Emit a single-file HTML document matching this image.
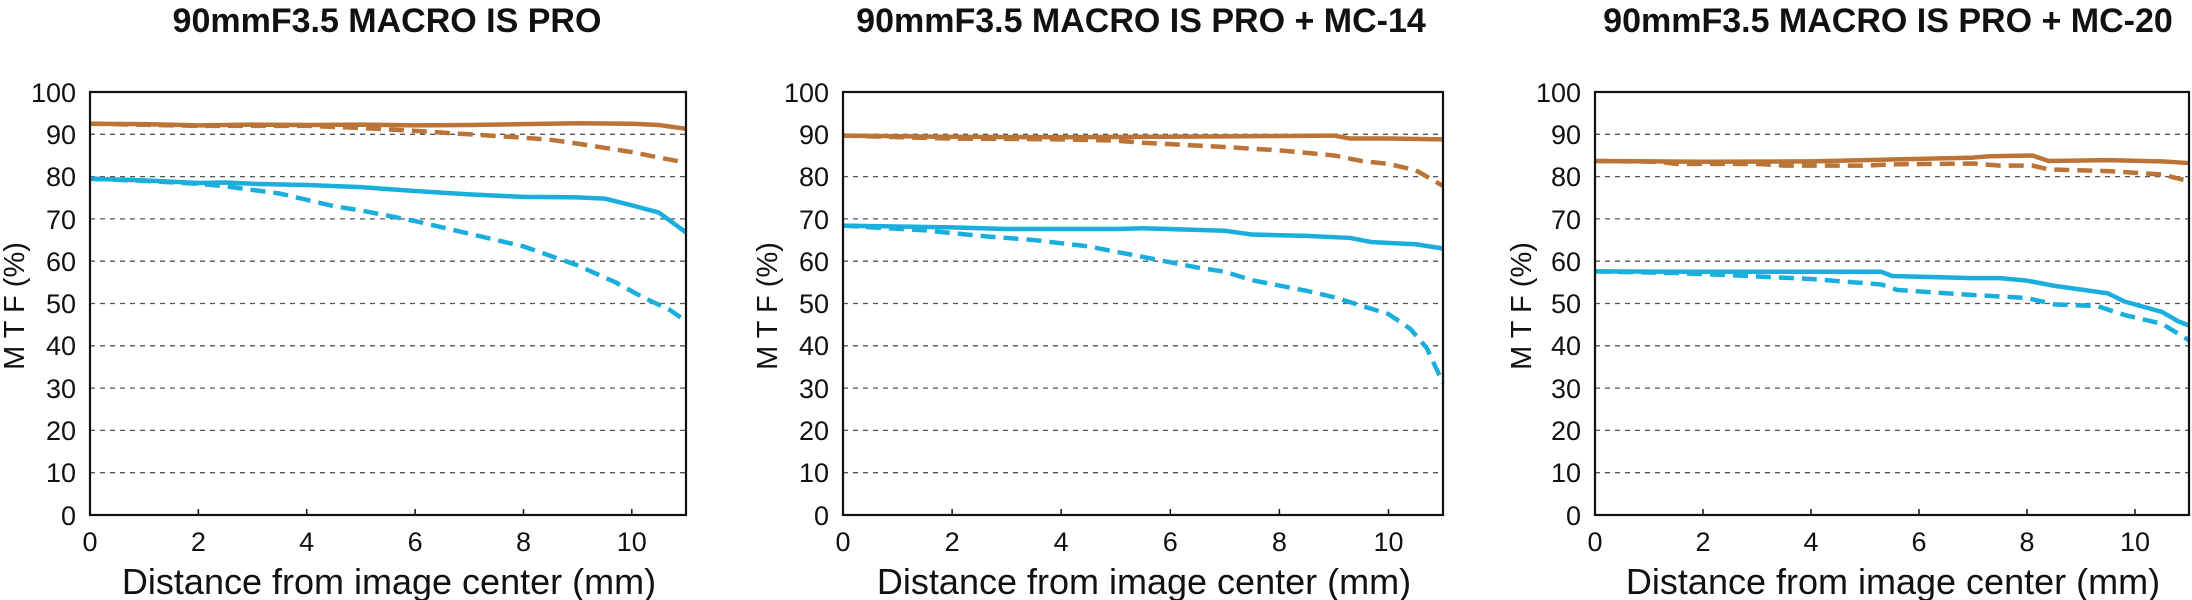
<!DOCTYPE html>
<html><head><meta charset="utf-8"><style>
html,body{margin:0;padding:0;background:#fff;}
svg{display:block;}
text{font-family:"Liberation Sans",sans-serif;fill:#111;}
.t{font-weight:bold;font-size:34px;text-anchor:middle;}
.yl{font-size:27px;text-anchor:end;}
.xl{font-size:27px;text-anchor:middle;}
.ax{font-size:36px;text-anchor:middle;}
.g{stroke:#555;stroke-width:1.3;stroke-dasharray:5 5;}
.o{stroke:#bb7435;}
.b{stroke:#1aaedc;}
.ln{fill:none;stroke-width:4.5;vector-effect:non-scaling-stroke;stroke-linejoin:round;}
.d{stroke-dasharray:15 8;}
</style></head><body>
<svg width="2192" height="600" viewBox="0 0 2192 600" xmlns="http://www.w3.org/2000/svg">
<!-- Plot 1 -->
<g>
<text class="t" x="387" y="32">90mmF3.5 MACRO IS PRO</text>
<g transform="translate(90,0)">
<line class="g" x1="0" x2="596" y1="134.3" y2="134.3"/><line class="g" x1="0" x2="596" y1="176.6" y2="176.6"/><line class="g" x1="0" x2="596" y1="218.9" y2="218.9"/><line class="g" x1="0" x2="596" y1="261.2" y2="261.2"/><line class="g" x1="0" x2="596" y1="303.5" y2="303.5"/><line class="g" x1="0" x2="596" y1="345.8" y2="345.8"/><line class="g" x1="0" x2="596" y1="388.1" y2="388.1"/><line class="g" x1="0" x2="596" y1="430.4" y2="430.4"/><line class="g" x1="0" x2="596" y1="472.7" y2="472.7"/>
<g stroke="#111" stroke-width="1.5"><line x1="108.4" x2="108.4" y1="515" y2="509"/><line x1="216.7" x2="216.7" y1="515" y2="509"/><line x1="325.1" x2="325.1" y1="515" y2="509"/><line x1="433.5" x2="433.5" y1="515" y2="509"/><line x1="541.8" x2="541.8" y1="515" y2="509"/></g>
<g transform="translate(0,515) scale(54.18,4.23)">
<polyline class="ln o" points="0,-92.5 1,-92.4 2,-92.1 3,-92.3 4,-92.2 5,-92.3 6,-92.1 7,-92.2 8,-92.4 9,-92.6 10,-92.5 10.5,-92.2 11,-91.3"/>
<polyline class="ln o d" points="0,-92.5 2,-92 4,-92 5,-91.5 6,-90.8 7,-90 8,-89.2 8.5,-88.7 9,-87.8 10,-85.8 10.5,-84.5 11,-83.3"/>
<polyline class="ln b" points="0,-79.5 1,-79.1 2,-78.5 2.5,-78.6 3,-78.3 4,-78 5,-77.5 6,-76.6 7,-75.8 8,-75.2 9,-75.1 9.5,-74.8 10,-73.2 10.5,-71.5 11,-66.8"/>
<polyline class="ln b d" points="0,-79.5 1,-79 2,-78.3 2.5,-77.7 3.5,-76 4.5,-73 5,-72 6,-69.5 7,-66.5 8,-63.5 9,-59 9.7,-55 10.2,-51.5 10.7,-48.5 11,-45.8"/>
</g>
<rect x="0" y="92" width="596" height="423" fill="none" stroke="#111" stroke-width="2.2"/>
<g class="yl"><text x="-14" y="102">100</text><text x="-14" y="144">90</text><text x="-14" y="186">80</text><text x="-14" y="229">70</text><text x="-14" y="271">60</text><text x="-14" y="313">50</text><text x="-14" y="355">40</text><text x="-14" y="398">30</text><text x="-14" y="440">20</text><text x="-14" y="482">10</text><text x="-14" y="525">0</text></g>
<g class="xl"><text x="0" y="551">0</text><text x="108.4" y="551">2</text><text x="216.7" y="551">4</text><text x="325.1" y="551">6</text><text x="433.5" y="551">8</text><text x="541.8" y="551">10</text></g>
<text class="ax" x="299" y="594">Distance from image center (mm)</text>
<text font-size="29" text-anchor="middle" transform="translate(-66,306) rotate(-90)">M T F (%)</text>
</g>
</g>
<!-- Plot 2 -->
<g>
<text class="t" x="1141" y="32">90mmF3.5 MACRO IS PRO + MC-14</text>
<g transform="translate(843,0)">
<line class="g" x1="0" x2="600" y1="134.3" y2="134.3"/><line class="g" x1="0" x2="600" y1="176.6" y2="176.6"/><line class="g" x1="0" x2="600" y1="218.9" y2="218.9"/><line class="g" x1="0" x2="600" y1="261.2" y2="261.2"/><line class="g" x1="0" x2="600" y1="303.5" y2="303.5"/><line class="g" x1="0" x2="600" y1="345.8" y2="345.8"/><line class="g" x1="0" x2="600" y1="388.1" y2="388.1"/><line class="g" x1="0" x2="600" y1="430.4" y2="430.4"/><line class="g" x1="0" x2="600" y1="472.7" y2="472.7"/>
<g stroke="#111" stroke-width="1.5"><line x1="109.1" x2="109.1" y1="515" y2="509"/><line x1="218.2" x2="218.2" y1="515" y2="509"/><line x1="327.3" x2="327.3" y1="515" y2="509"/><line x1="436.4" x2="436.4" y1="515" y2="509"/><line x1="545.5" x2="545.5" y1="515" y2="509"/></g>
<g transform="translate(0,515) scale(54.55,4.23)">
<polyline class="ln o" points="0,-89.7 2,-89.4 4,-89.3 5.5,-89.4 7,-89.5 8,-89.6 9,-89.7 9.3,-89 10,-89 11,-88.8"/>
<polyline class="ln o d" points="0,-89.7 2,-89 4,-88.8 5,-88.5 5.5,-88 7,-87 8,-86.2 9,-85 9.5,-83.7 10,-83 10.5,-81.5 11,-77.8"/>
<polyline class="ln b" points="0,-68.4 2,-68 3,-67.6 5,-67.6 5.5,-67.8 7,-67.2 7.5,-66.3 8.5,-66 9.3,-65.5 9.7,-64.5 10.5,-64 11,-63"/>
<polyline class="ln b d" points="0,-68.4 1.5,-67.3 2.5,-66 3.5,-65 4.5,-63.5 5.5,-61 6.5,-58.5 7,-57.5 7.5,-55.5 8.5,-53 9,-51.5 9.5,-49.5 10,-47.5 10.4,-44 10.7,-39.5 11,-31.2"/>
</g>
<rect x="0" y="92" width="600" height="423" fill="none" stroke="#111" stroke-width="2.2"/>
<g class="yl"><text x="-14" y="102">100</text><text x="-14" y="144">90</text><text x="-14" y="186">80</text><text x="-14" y="229">70</text><text x="-14" y="271">60</text><text x="-14" y="313">50</text><text x="-14" y="355">40</text><text x="-14" y="398">30</text><text x="-14" y="440">20</text><text x="-14" y="482">10</text><text x="-14" y="525">0</text></g>
<g class="xl"><text x="0" y="551">0</text><text x="109.1" y="551">2</text><text x="218.2" y="551">4</text><text x="327.3" y="551">6</text><text x="436.4" y="551">8</text><text x="545.5" y="551">10</text></g>
<text class="ax" x="301" y="594">Distance from image center (mm)</text>
<text font-size="29" text-anchor="middle" transform="translate(-66,306) rotate(-90)">M T F (%)</text>
</g>
</g>
<!-- Plot 3 -->
<g>
<text class="t" x="1888" y="32">90mmF3.5 MACRO IS PRO + MC-20</text>
<g transform="translate(1595,0)">
<line class="g" x1="0" x2="594" y1="134.3" y2="134.3"/><line class="g" x1="0" x2="594" y1="176.6" y2="176.6"/><line class="g" x1="0" x2="594" y1="218.9" y2="218.9"/><line class="g" x1="0" x2="594" y1="261.2" y2="261.2"/><line class="g" x1="0" x2="594" y1="303.5" y2="303.5"/><line class="g" x1="0" x2="594" y1="345.8" y2="345.8"/><line class="g" x1="0" x2="594" y1="388.1" y2="388.1"/><line class="g" x1="0" x2="594" y1="430.4" y2="430.4"/><line class="g" x1="0" x2="594" y1="472.7" y2="472.7"/>
<g stroke="#111" stroke-width="1.5"><line x1="108" x2="108" y1="515" y2="509"/><line x1="216" x2="216" y1="515" y2="509"/><line x1="324" x2="324" y1="515" y2="509"/><line x1="432" x2="432" y1="515" y2="509"/><line x1="540" x2="540" y1="515" y2="509"/></g>
<g transform="translate(0,515) scale(54,4.23)">
<polyline class="ln o" points="0,-83.7 2,-83.5 4,-83.6 5,-83.9 6,-84.2 7,-84.5 7.3,-84.8 8.1,-85 8.4,-83.7 9,-83.8 9.5,-83.9 10.5,-83.6 11,-83.2"/>
<polyline class="ln o d" points="0,-83.7 1.2,-83.5 1.5,-83 3,-83 3.5,-82.6 5,-82.6 5.5,-82.9 7,-83.1 7.5,-82.6 8.1,-82.6 8.4,-81.7 9.5,-81.3 10.5,-80.5 11,-78.9"/>
<polyline class="ln b" points="0,-57.6 2,-57.5 4,-57.5 5.3,-57.5 5.5,-56.5 7,-56 7.5,-56 8,-55.4 8.5,-54.2 9.5,-52.4 9.8,-50.5 10.5,-48 10.8,-45.8 11,-44.8"/>
<polyline class="ln b d" points="0,-57.6 1.5,-57.2 2.5,-56.7 4,-55.8 5.3,-54.5 5.6,-53.2 7,-52 8,-51.3 8.5,-49.8 9.3,-49.4 9.8,-47.3 10.5,-45.2 11,-41.3"/>
</g>
<rect x="0" y="92" width="594" height="423" fill="none" stroke="#111" stroke-width="2.2"/>
<g class="yl"><text x="-14" y="102">100</text><text x="-14" y="144">90</text><text x="-14" y="186">80</text><text x="-14" y="229">70</text><text x="-14" y="271">60</text><text x="-14" y="313">50</text><text x="-14" y="355">40</text><text x="-14" y="398">30</text><text x="-14" y="440">20</text><text x="-14" y="482">10</text><text x="-14" y="525">0</text></g>
<g class="xl"><text x="0" y="551">0</text><text x="108" y="551">2</text><text x="216" y="551">4</text><text x="324" y="551">6</text><text x="432" y="551">8</text><text x="540" y="551">10</text></g>
<text class="ax" x="298" y="594">Distance from image center (mm)</text>
<text font-size="29" text-anchor="middle" transform="translate(-64,306) rotate(-90)">M T F (%)</text>
</g>
</g>
</svg>
</body></html>
